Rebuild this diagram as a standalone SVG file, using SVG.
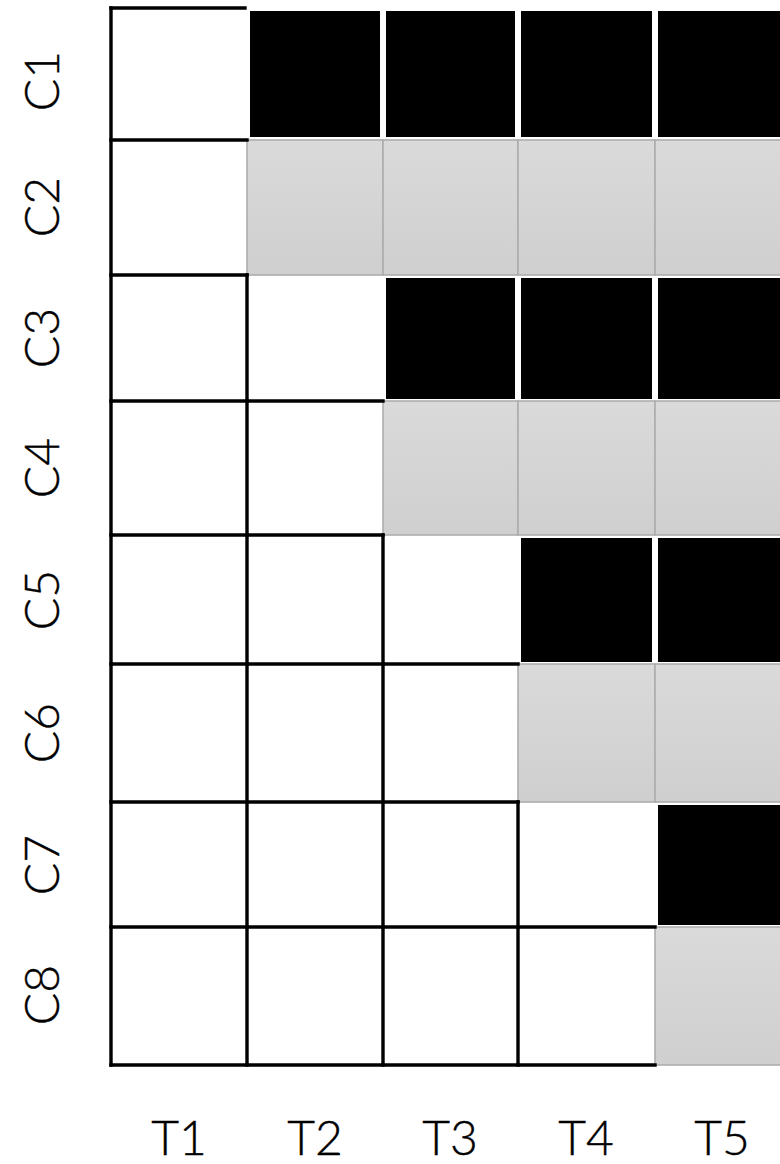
<svg xmlns="http://www.w3.org/2000/svg" width="780" height="1164" viewBox="0 0 780 1164">
<defs>
<linearGradient id="gg" x1="0" y1="0" x2="0" y2="1">
<stop offset="0" stop-color="#dadada"/>
<stop offset="1" stop-color="#cfcfcf"/>
</linearGradient>
</defs>
<style>
.g{fill:url(#gg);stroke:#adadad;stroke-width:1.6}
.b{fill:#000}
.ln{fill:none;stroke:#000;stroke-width:3.4;stroke-linecap:square}
.lbl{font-family:Lato,"DejaVu Sans",sans-serif;font-weight:300;font-size:48px;fill:#000;stroke:#000;stroke-width:0.4;text-anchor:middle}
</style>
<rect width="780" height="1164" fill="#fff"/>
<g id="gray-cells">
<rect class="g" x="247" y="140" width="136" height="135"/>
<rect class="g" x="383" y="140" width="135" height="135"/>
<rect class="g" x="518" y="140" width="137" height="135"/>
<rect class="g" x="655" y="140" width="137" height="135"/>
<rect class="g" x="383" y="401" width="135" height="134"/>
<rect class="g" x="518" y="401" width="137" height="134"/>
<rect class="g" x="655" y="401" width="137" height="134"/>
<rect class="g" x="518" y="664" width="137" height="138"/>
<rect class="g" x="655" y="664" width="137" height="138"/>
<rect class="g" x="655" y="927" width="137" height="138"/>
</g>
<g id="black-cells">
<rect class="b" x="250" y="11" width="130" height="126"/>
<rect class="b" x="386" y="11" width="129" height="126"/>
<rect class="b" x="521" y="11" width="131" height="126"/>
<rect class="b" x="658" y="11" width="134" height="126"/>
<rect class="b" x="386" y="278" width="129" height="121"/>
<rect class="b" x="521" y="278" width="131" height="121"/>
<rect class="b" x="658" y="278" width="134" height="121"/>
<rect class="b" x="521" y="538" width="131" height="124"/>
<rect class="b" x="658" y="538" width="134" height="124"/>
<rect class="b" x="658" y="805" width="134" height="120"/>
</g>
<g id="grid-lines">
<path class="ln" d="M111,8H245 M111,140H247 M111,275H247 M111,401H383 M111,535H383 M111,664H518 M111,802H518 M111,927H655 M111,1065H655"/>
<path class="ln" d="M111,8V1065 M247,275V1065 M383,535V1065 M518,802V1065"/>
</g>
<g id="row-labels">
<text class="lbl" transform="translate(59,81) rotate(-90)">C1</text>
<text class="lbl" transform="translate(59,207) rotate(-90)">C2</text>
<text class="lbl" transform="translate(59,338) rotate(-90)">C3</text>
<text class="lbl" transform="translate(59,468) rotate(-90)">C4</text>
<text class="lbl" transform="translate(59,600) rotate(-90)">C5</text>
<text class="lbl" transform="translate(59,733) rotate(-90)">C6</text>
<text class="lbl" transform="translate(59,865) rotate(-90)">C7</text>
<text class="lbl" transform="translate(59,995) rotate(-90)">C8</text>
</g>
<g id="column-labels">
<text class="lbl" x="179" y="1155">T1</text>
<text class="lbl" x="315" y="1155">T2</text>
<text class="lbl" x="450" y="1155">T3</text>
<text class="lbl" x="586" y="1155">T4</text>
<text class="lbl" x="722" y="1155">T5</text>
</g>
</svg>
